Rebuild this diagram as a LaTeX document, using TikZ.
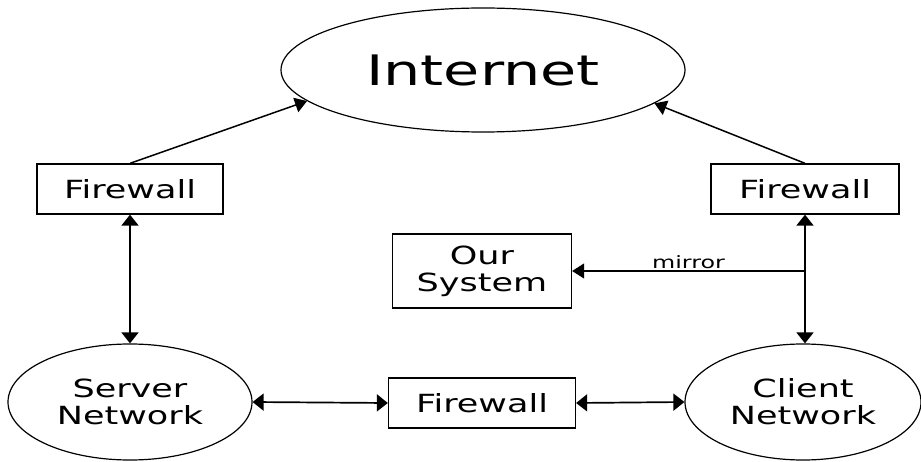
\documentclass[tikz,border=0pt]{standalone}
\usepackage{fontspec}
\setmainfont{DejaVu Sans}[FakeStretch=1.4]
\usetikzlibrary{positioning}
\usetikzlibrary{shapes.geometric}
\usetikzlibrary{arrows.meta}

\begin{document}
\begin{tikzpicture}[x=1pt, y=-1pt,
  every node/.style={font=\fontsize{25}{27}\selectfont, align=center},
  net/.style={draw, ellipse, line width=1.2pt, inner sep=0pt},
  wall/.style={draw, rectangle, line width=1.3pt, inner sep=0pt, minimum width=186pt, minimum height=50pt},
  link/.style={line width=1.5pt, -{Triangle[length=12pt,width=15pt]}},
  both/.style={line width=1.7pt, {Triangle[length=11pt,width=17pt]}-{Triangle[length=11pt,width=17pt]}}]
  \useasboundingbox (0,0) rectangle (921,462);

  % networks
  \node[net, minimum width=404pt, minimum height=124pt, font=\fontsize{42}{50}\selectfont] (inet) at (483,70) {Internet};
  \node[net, minimum width=244pt, minimum height=116pt] (srv) at (130,402) {Server\\Network};
  \node[net, minimum width=236pt, minimum height=116pt] (cli) at (803,402) {Client\\Network};

  % firewalls
  \node[wall] (fwl) at (130,189) {Firewall};
  \node[wall, minimum width=188pt] (fwr) at (805,189) {Firewall};
  \node[wall, minimum width=187pt] (fwb) at (482,403) {Firewall};
  \node[wall, minimum width=179pt, minimum height=74pt] (sys) at (482,271) {Our\\System};

  % links to the internet
  \draw[link] (fwl.north) -- (inet.190);
  \draw[link] (fwr.north) -- (inet.349);
  \draw[both] (fwl.south) -- (srv.north);
  \draw[both] (fwr.south) -- (fwr.south |- cli.north);
  \draw[both] (srv.east) -- (fwb.west);
  \draw[both] (fwb.east) -- (cli.west);

  % mirror
  \coordinate (tap) at (fwr.south |- sys.east);
  \draw[link, line width=1.2pt] (tap) -- node[above, inner sep=2pt, font=\fontsize{17}{20}\selectfont] {mirror} (sys.east);
\end{tikzpicture}
\end{document}
